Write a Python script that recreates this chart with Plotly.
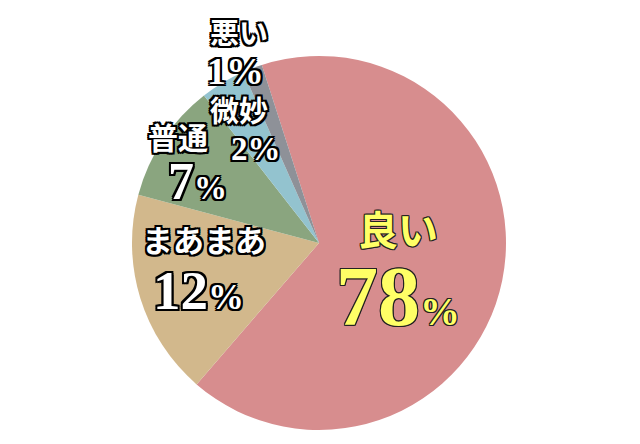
import plotly.graph_objects as go

# ----------------------------------------
# DATA (slice sizes read off the drawn angles, labels as printed)
# ----------------------------------------
categories = ["良い", "まあまあ", "普通", "微妙", "悪い"]
slice_values = [66.3, 17.8, 10.3, 3.9, 1.7]
pct_labels = ["78", "12", "7", "2", "1"]
colors = ["#D78D8E", "#D2B88C", "#8AA57F", "#93C3CF", "#8E9198"]

W, H = 640, 444
# page body margin pushes the plot 8px right/down, so compensate
OFF = 8
cx, cy, r = 319 - OFF, 243 - OFF, 187

fig = go.Figure(go.Pie(
    labels=categories,
    values=slice_values,
    sort=False,
    direction="clockwise",
    rotation=-17.8,
    marker=dict(colors=colors, line=dict(width=0)),
    textinfo="none",
    hoverinfo="label+percent",
    showlegend=False,
    domain=dict(x=[(cx - r) / W, (cx + r) / W],
                y=[(H - cy - r) / H, (H - cy + r) / H]),
))

FONT = "Liberation Serif, Noto Sans CJK JP, serif"


def outline(color, w):
    offs = [(-w, -w), (0, -w), (w, -w), (-w, 0), (w, 0), (-w, w), (0, w), (w, w)]
    return ", ".join(f"{dx}px {dy}px 0 {color}" for dx, dy in offs)


white_font = dict(family=FONT, color="white", weight="bold", shadow=outline("black", 2))
yellow_font = dict(family=FONT, color="#FFFF66", weight="bold", shadow=outline("#222", 1))


def add(text, x, y, size, font):
    fig.add_annotation(
        text=text, x=(x - OFF) / W, y=1 - (y - OFF) / H, xref="paper", yref="paper",
        showarrow=False, xanchor="center", yanchor="middle",
        font=dict(size=size, **font),
    )


def pct(num, big, small):
    return f"<span style='font-size:{big}px'>{num}</span><span style='font-size:{small}px'>%</span>"


# category names
add(categories[0], 398, 232, 40, yellow_font)
add(categories[1], 204, 241, 31, white_font)
add(categories[2], 178, 138, 30, white_font)
add(categories[3], 239, 112, 29, white_font)
add(categories[4], 239, 34, 29, white_font)

# percentages
add(pct(pct_labels[0], 84, 40), 398, 296, 84, yellow_font)
add(pct(pct_labels[1], 55, 36), 198, 290, 55, white_font)
add(pct(pct_labels[2], 52, 33), 197, 181, 52, white_font)
add(pct(pct_labels[3], 33, 33), 256, 149, 33, white_font)
add(pct(pct_labels[4], 38, 38), 235, 71, 38, white_font)

fig.update_layout(
    width=W, height=H,
    margin=dict(l=0, r=0, t=0, b=0),
    paper_bgcolor="white",
    plot_bgcolor="white",
)

fig.write_html("out.html")
